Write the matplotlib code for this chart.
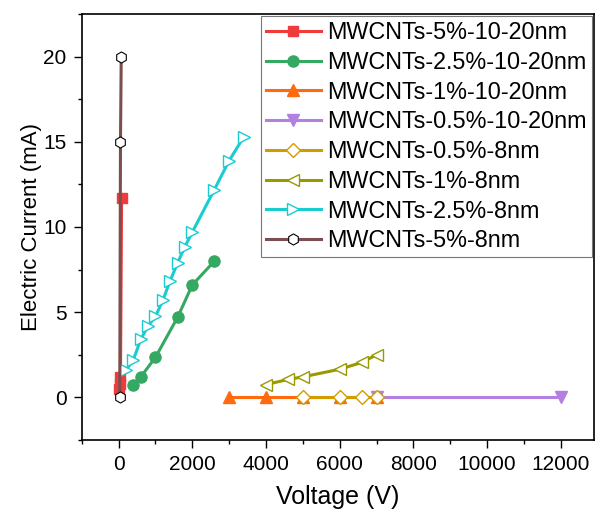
import matplotlib.pyplot as plt
from matplotlib.ticker import MultipleLocator

plt.rcParams['font.family'] = ['Liberation Sans', 'DejaVu Sans']

# data
labels = ["MWCNTs-5%-10-20nm", "MWCNTs-2.5%-10-20nm", "MWCNTs-1%-10-20nm",
          "MWCNTs-0.5%-10-20nm", "MWCNTs-0.5%-8nm", "MWCNTs-1%-8nm",
          "MWCNTs-2.5%-8nm", "MWCNTs-5%-8nm"]

v_red = [0, 30, 50, 80]
i_red = [0.5, 0.8, 1.2, 11.7]

v_green = [400, 600, 1000, 1600, 2000, 2600]
i_green = [0.75, 1.2, 2.35, 4.7, 6.6, 8.0]

v_orange = [3000, 4000, 5000, 6000, 7000]
i_orange = [0, 0, 0, 0, 0]

v_purple = [7000, 12000]
i_purple = [0, 0]

v_gold = [5000, 6000, 6600, 7000]
i_gold = [0, 0, 0, 0]

v_olive = [4000, 4600, 5000, 6000, 6600, 7000]
i_olive = [0.75, 1.05, 1.2, 1.65, 2.05, 2.5]

v_cyan = [200, 400, 600, 800, 1000, 1200, 1400, 1600, 1800, 2000, 2600, 3000, 3400]
i_cyan = [1.6, 2.2, 3.4, 4.2, 4.75, 5.7, 6.85, 7.9, 8.85, 9.7, 12.2, 13.9, 15.3]

v_brown = [30, 50, 70]
i_brown = [0, 15, 20]

fig = plt.figure(figsize=(5.97, 5.2), dpi=100)
ax = fig.add_axes([0.137, 0.154, 0.858, 0.819])

lw = 2.2
ax.plot(v_red, i_red, color='#EE3B3B', lw=lw, marker='s', ms=7, label=labels[0])
ax.plot(v_green, i_green, color='#35A862', lw=lw, marker='o', ms=8, label=labels[1])
ax.plot(v_orange, i_orange, color='#FF6A0E', lw=lw, marker='^', ms=9, label=labels[2])
ax.plot(v_purple, i_purple, color='#B37FE0', lw=lw, marker='v', ms=9, label=labels[3])
ax.plot(v_gold, i_gold, color='#D49B00', lw=lw, marker='D', ms=7, mfc='white', mew=1, label=labels[4])
ax.plot(v_olive, i_olive, color='#999900', lw=lw, marker='<', ms=9, mfc='white', mew=1, label=labels[5])
ax.plot(v_cyan, i_cyan, color='#1ACCD0', lw=lw, marker='>', ms=9, mfc='white', mew=1, label=labels[6])
ax.plot(v_brown, i_brown, color='#7D4E4E', lw=lw, marker='h', ms=8, mfc='white', mec='black', mew=0.8, label=labels[7])

ax.set_xlim(-1000, 12900)
ax.set_ylim(-2.5, 22.5)
ax.xaxis.set_major_locator(MultipleLocator(2000))
ax.xaxis.set_minor_locator(MultipleLocator(1000))
ax.yaxis.set_major_locator(MultipleLocator(5))
ax.yaxis.set_minor_locator(MultipleLocator(2.5))
ax.tick_params(which='major', length=6, width=1, labelsize=15, pad=5)
ax.tick_params(which='minor', length=3, width=1)
for s in ax.spines.values():
    s.set_linewidth(1.2)

ax.set_xlabel("Voltage (V)", fontsize=18, labelpad=8)
ax.set_ylabel("Electric Current (mA)", fontsize=16, labelpad=1)

leg = ax.legend(loc='upper right', fontsize=16.8, fancybox=False, edgecolor='#555555',
                borderaxespad=0.1, labelspacing=0.29, handlelength=2.35,
                handletextpad=0.3, borderpad=0.2)
leg.get_frame().set_linewidth(0.8)

fig.savefig("out.png", dpi=100)
